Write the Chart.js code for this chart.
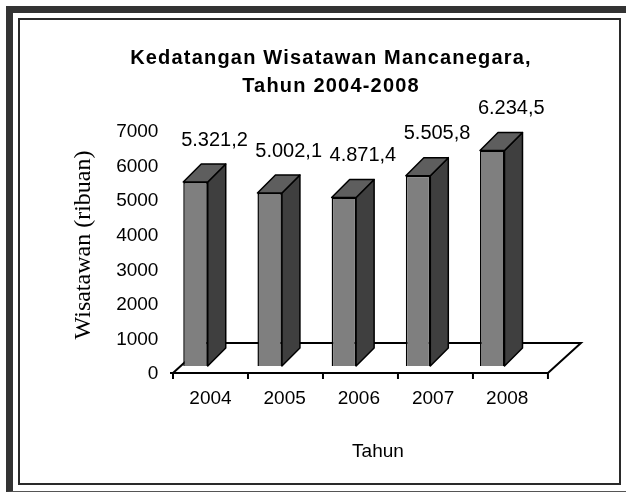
<!DOCTYPE html>
<html>
<head>
<meta charset="utf-8">
<script src="https://cdn.jsdelivr.net/npm/chart.js@4"></script>
<style>
  html, body { margin: 0; padding: 0; background: #fff; }
  body { width: 626px; height: 492px; position: relative; overflow: hidden; }
  .shadow { position: absolute; left: 6px; top: 6px; width: 700px; height: 486px; box-sizing: border-box;
            border-left: 7px solid #333; border-top: 7px solid #333; border-bottom: 1px solid #555; }
  .frame { position: absolute; left: 18px; top: 18px; width: 603px; height: 467px; box-sizing: border-box;
           border: 2px solid #2a2a2a; background: #fff; }
  canvas { position: absolute; left: 0; top: 0; }
</style>
</head>
<body>
<div class="shadow"></div>
<div class="frame"></div>
<canvas id="chart" width="626" height="492"></canvas>
<script>
const years = [2004, 2005, 2006, 2007, 2008];
const visitors = [5321.2, 5002.1, 4871.4, 5505.8, 6234.5];
const yTicks = [0, 1000, 2000, 3000, 4000, 5000, 6000, 7000];

const colors = {
    front: '#7f7f7f',
    side: '#3f3f3f',
    top: '#5e5e5e',
    line: '#000000'
};

const DEPTH = 18;          // bar depth offset (px)
const FLOOR_DX = 33;       // floor depth
const FLOOR_DY = 30;
const FLOOR_SHIFT = 14.6;  // floor front edge vs bar slots
const AXIS_DROP = 7;       // floor front below bar base

// 5.321,2 style numbers
function fmt(v) {
    const parts = v.toFixed(1).split('.');
    return parts[0].replace(/\B(?=(\d{3})+(?!\d))/g, '.') + ',' + parts[1];
}

function poly(ctx, pts, fill) {
    ctx.beginPath();
    ctx.moveTo(pts[0][0], pts[0][1]);
    for (let i = 1; i < pts.length; i++) ctx.lineTo(pts[i][0], pts[i][1]);
    ctx.closePath();
    ctx.fillStyle = fill;
    ctx.fill();
    ctx.stroke();
}

const bars3d = {
    id: 'bars3d',
    beforeDraw(chart) {
        const tb = chart.titleBlock;
        if (tb && !tb._spaced) {
            const orig = tb.draw.bind(tb);
            tb.draw = function (area) {
                chart.ctx.save();
                chart.ctx.letterSpacing = '1.2px';
                orig(area);
                chart.ctx.restore();
            };
            tb._spaced = true;
        }
    },
    beforeDatasetsDraw(chart) {
        const {ctx, scales: {x, y}} = chart;
        const fy = y.getPixelForValue(0) + AXIS_DROP;
        const ticksX = [];
        for (let i = 0; i <= years.length; i++) {
            ticksX.push(x.getPixelForValue(years[0] - 0.5 + i) + FLOOR_SHIFT + i * 0.8);
        }
        const x0 = ticksX[0], x1 = ticksX[ticksX.length - 1];
        ctx.save();
        ctx.strokeStyle = colors.line;
        ctx.lineWidth = 2;
        ctx.beginPath();
        ctx.moveTo(x0 - 3, fy);
        ctx.lineTo(x1, fy);
        ctx.lineTo(x1 + FLOOR_DX, fy - FLOOR_DY);
        ctx.lineTo(x0 + FLOOR_DX, fy - FLOOR_DY);
        ctx.lineTo(x0, fy);
        ticksX.forEach(tx => { ctx.moveTo(tx, fy); ctx.lineTo(tx, fy + 6); });
        ctx.stroke();
        ctx.restore();
    },
    afterDatasetsDraw(chart) {
        const ctx = chart.ctx;
        const meta = chart.getDatasetMeta(0);
        ctx.save();
        ctx.strokeStyle = colors.line;
        ctx.lineWidth = 1.5;
        ctx.lineJoin = 'round';
        meta.data.forEach((bar, i) => {
            const l = bar.x - bar.width / 2, r = bar.x + bar.width / 2;
            const t = bar.y, b = bar.base;
            poly(ctx, [[r, t], [r + DEPTH, t - DEPTH], [r + DEPTH, b - DEPTH], [r, b]], colors.side);
            poly(ctx, [[l, t], [l + DEPTH, t - DEPTH], [r + DEPTH, t - DEPTH], [r, t]], colors.top);

            ctx.fillStyle = '#000';
            ctx.font = '20px "Liberation Sans", Arial, sans-serif';
            ctx.textAlign = 'center';
            ctx.textBaseline = 'middle';
            ctx.fillText(fmt(visitors[i]), bar.x + 19, bar.y - 42);
        });
        ctx.restore();
    }
};

new Chart(document.getElementById('chart'), {
    type: 'bar',
    data: {
        labels: years,
        datasets: [{
            label: 'Wisatawan',
            data: visitors,
            backgroundColor: colors.front,
            borderColor: colors.line,
            borderWidth: 1.5,
            categoryPercentage: 1,
            barPercentage: 0.33
        }]
    },
    options: {
        responsive: false,
        animation: false,
        layout: { padding: { left: 64.4, right: 28.4, top: 0, bottom: 0 } },
        plugins: {
            legend: { display: false },
            tooltip: { enabled: false },
            title: {
                display: true,
                text: ['Kedatangan Wisatawan Mancanegara,', 'Tahun 2004-2008'],
                color: '#000',
                font: { family: '"Liberation Sans", Arial, sans-serif', size: 20, weight: 'bold', lineHeight: 1.4 },
                padding: { top: 44, bottom: 24 }
            }
        },
        scales: {
            x: {
                type: 'linear',
                min: 2003.5,
                max: 2009.42,
                offset: false,
                grid: { display: false, drawTicks: false },
                border: { display: false },
                afterBuildTicks: s => { s.ticks = years.map(v => ({ value: v })); },
                afterFit: s => { s.height = 126; },
                ticks: {
                    callback: v => String(v),
                    color: '#000',
                    font: { family: '"Liberation Sans", Arial, sans-serif', size: 19 },
                    padding: 21.6,
                    labelOffset: 15,
                    maxRotation: 0,
                    autoSkip: false
                },
                title: {
                    display: true,
                    text: 'Tahun',
                    color: '#000',
                    font: { family: '"Liberation Sans", Arial, sans-serif', size: 19 },
                    padding: { top: 28.6, bottom: 28.6 }
                }
            },
            y: {
                min: 0,
                max: 7000,
                grid: { display: false, drawTicks: false },
                border: { display: false },
                afterBuildTicks: s => { s.ticks = yTicks.map(v => ({ value: v })); },
                afterFit: s => { s.width = 94; },
                ticks: {
                    callback: v => String(v),
                    color: '#000',
                    font: { family: '"Liberation Sans", Arial, sans-serif', size: 19 },
                    padding: 0,
                    labelOffset: 8
                },
                title: {
                    display: true,
                    text: 'Wisatawan (ribuan)',
                    color: '#000',
                    font: { family: '"Liberation Serif", "Times New Roman", serif', size: 24 },
                    padding: { top: 5.2, bottom: 0 }
                }
            }
        }
    },
    plugins: [bars3d]
});
</script>
</body>
</html>
